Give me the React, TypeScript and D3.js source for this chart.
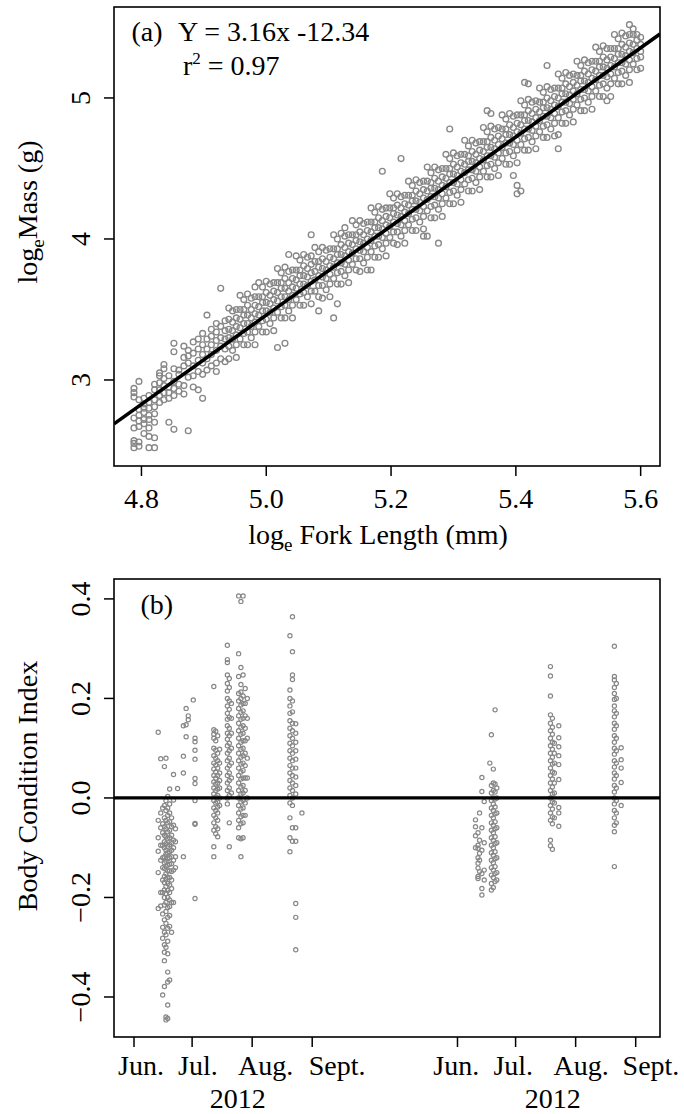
import React from 'react';
import * as d3 from 'd3';

// ---------- Panel (a): log_e fork length vs log_e mass ----------
const lenLog = [
  4.788, 4.796, 4.804, 4.812, 4.821, 4.829, 4.836, 4.844, 4.852, 4.860,
  4.868, 4.875, 4.883, 4.891, 4.898, 4.905, 4.912, 4.920, 4.927, 4.934,
  4.940, 4.946, 4.952, 4.958, 4.964, 4.970, 4.976, 4.982, 4.988, 4.994,
  5.000, 5.006, 5.012, 5.018, 5.024, 5.030, 5.036, 5.042, 5.048, 5.054,
  5.060, 5.066, 5.072, 5.078, 5.084, 5.090, 5.096, 5.102, 5.108, 5.114,
  5.120, 5.126, 5.132, 5.138, 5.144, 5.150, 5.156, 5.162, 5.168, 5.174,
  5.180, 5.186, 5.192, 5.198, 5.204, 5.210, 5.216, 5.222, 5.228, 5.234,
  5.240, 5.246, 5.252, 5.258, 5.264, 5.270, 5.276, 5.282, 5.288, 5.294,
  5.300, 5.306, 5.312, 5.318, 5.324, 5.330, 5.336, 5.342, 5.348, 5.354,
  5.360, 5.366, 5.372, 5.378, 5.384, 5.390, 5.396, 5.402, 5.408, 5.414,
  5.420, 5.426, 5.432, 5.438, 5.444, 5.450, 5.456, 5.462, 5.468, 5.474,
  5.480, 5.486, 5.492, 5.498, 5.504, 5.510, 5.516, 5.522, 5.528, 5.534,
  5.540, 5.546, 5.552, 5.558, 5.564, 5.570, 5.576, 5.582, 5.588, 5.594,
  5.600,
];

const massLog = [
  [2.52, 2.55, 2.57, 2.66, 2.73, 2.88, 2.91, 2.94],
  [2.53, 2.56, 2.67, 2.71, 2.75, 2.79, 2.86, 2.99],
  [2.62, 2.69, 2.72, 2.77, 2.80, 2.83, 2.87],
  [2.52, 2.60, 2.66, 2.72, 2.75, 2.80, 2.84, 2.89],
  [2.52, 2.59, 2.70, 2.76, 2.81, 2.86, 2.93, 2.97],
  [2.84, 2.89, 2.93, 2.98, 3.03, 3.05],
  [2.86, 2.91, 2.96, 3.01, 3.08, 3.11],
  [2.70, 2.87, 2.91, 2.95, 3.03],
  [2.65, 2.89, 2.94, 2.99, 3.08, 3.20, 3.26],
  [2.92, 2.97, 3.04, 3.07],
  [2.90, 2.96, 3.10, 3.16, 3.24],
  [2.64, 3.02, 3.12, 3.17, 3.21],
  [2.95, 3.03, 3.10, 3.19, 3.27],
  [2.93, 3.06, 3.14, 3.22, 3.29],
  [2.87, 3.04, 3.12, 3.18, 3.25, 3.33],
  [3.07, 3.15, 3.22, 3.29, 3.46],
  [3.10, 3.18, 3.25, 3.31, 3.36],
  [3.06, 3.12, 3.21, 3.28, 3.34, 3.40],
  [3.15, 3.24, 3.30, 3.38, 3.65],
  [3.13, 3.22, 3.29, 3.35, 3.42],
  [3.15, 3.24, 3.30, 3.36, 3.43, 3.51],
  [3.21, 3.29, 3.35, 3.41, 3.49],
  [3.16, 3.25, 3.32, 3.38, 3.44, 3.50],
  [3.29, 3.37, 3.43, 3.50, 3.60],
  [3.25, 3.33, 3.40, 3.46, 3.50, 3.57],
  [3.25, 3.34, 3.40, 3.46, 3.53, 3.61],
  [3.30, 3.38, 3.44, 3.50, 3.58],
  [3.25, 3.34, 3.41, 3.47, 3.53, 3.59, 3.66],
  [3.38, 3.46, 3.52, 3.59, 3.69],
  [3.34, 3.42, 3.49, 3.55, 3.59, 3.66],
  [3.34, 3.43, 3.49, 3.55, 3.62, 3.70],
  [3.40, 3.48, 3.54, 3.60, 3.68],
  [3.35, 3.44, 3.51, 3.57, 3.63, 3.69],
  [3.23, 3.48, 3.56, 3.62, 3.69, 3.79],
  [3.44, 3.52, 3.59, 3.65, 3.69, 3.76],
  [3.26, 3.44, 3.53, 3.59, 3.65, 3.72, 3.80],
  [3.49, 3.57, 3.63, 3.69, 3.77, 3.89],
  [3.44, 3.53, 3.60, 3.66, 3.72, 3.78],
  [3.57, 3.65, 3.71, 3.78, 3.88],
  [3.53, 3.61, 3.68, 3.74, 3.78, 3.85],
  [3.53, 3.62, 3.68, 3.74, 3.81, 3.89],
  [3.59, 3.67, 3.73, 3.79, 3.87],
  [3.54, 3.63, 3.70, 3.76, 3.82, 3.88, 4.03],
  [3.63, 3.71, 3.77, 3.84, 3.94],
  [3.49, 3.59, 3.67, 3.74, 3.80, 3.84, 3.91],
  [3.58, 3.67, 3.73, 3.79, 3.86, 3.94],
  [3.64, 3.72, 3.78, 3.84, 3.92],
  [3.59, 3.68, 3.75, 3.81, 3.87, 3.93],
  [3.44, 3.72, 3.80, 3.86, 3.93, 4.03],
  [3.54, 3.68, 3.76, 3.83, 3.89, 3.93, 4.00],
  [3.68, 3.77, 3.83, 3.89, 3.96, 4.04],
  [3.74, 3.82, 3.88, 3.94, 4.02, 4.08],
  [3.69, 3.78, 3.85, 3.91, 3.97, 4.03],
  [3.82, 3.90, 3.96, 4.03, 4.13],
  [3.78, 3.86, 3.93, 3.99, 4.03, 4.10],
  [3.77, 3.86, 3.92, 3.98, 4.05, 4.13],
  [3.83, 3.91, 3.97, 4.03, 4.11],
  [3.78, 3.87, 3.94, 4.00, 4.06, 4.12],
  [3.78, 3.91, 3.99, 4.05, 4.12, 4.22],
  [3.87, 3.95, 4.02, 4.08, 4.12, 4.19],
  [3.87, 3.96, 4.02, 4.08, 4.15, 4.23],
  [3.93, 4.01, 4.07, 4.13, 4.21, 4.48],
  [3.88, 3.97, 4.04, 4.10, 4.16, 4.22],
  [4.01, 4.09, 4.15, 4.22, 4.32],
  [3.97, 4.05, 4.12, 4.18, 4.22, 4.29],
  [3.96, 4.05, 4.11, 4.17, 4.24, 4.32],
  [4.02, 4.10, 4.16, 4.22, 4.30, 4.57],
  [3.97, 4.06, 4.13, 4.19, 4.25, 4.31],
  [4.10, 4.18, 4.24, 4.31, 4.41],
  [4.06, 4.14, 4.21, 4.27, 4.31, 4.38],
  [4.06, 4.15, 4.21, 4.27, 4.34, 4.42],
  [4.12, 4.20, 4.26, 4.32, 4.40],
  [4.02, 4.07, 4.16, 4.23, 4.29, 4.35, 4.41],
  [4.02, 4.20, 4.28, 4.34, 4.41, 4.51],
  [4.15, 4.23, 4.30, 4.36, 4.40, 4.47],
  [4.15, 4.24, 4.30, 4.36, 4.43, 4.51],
  [3.97, 4.21, 4.29, 4.35, 4.41, 4.49],
  [4.16, 4.25, 4.32, 4.38, 4.44, 4.50],
  [4.29, 4.37, 4.43, 4.50, 4.60],
  [4.25, 4.33, 4.40, 4.46, 4.50, 4.57, 4.78],
  [4.25, 4.34, 4.40, 4.46, 4.53, 4.61],
  [4.31, 4.39, 4.45, 4.51, 4.59],
  [4.26, 4.35, 4.42, 4.48, 4.54, 4.60],
  [4.39, 4.47, 4.53, 4.60, 4.70],
  [4.34, 4.42, 4.49, 4.55, 4.59, 4.66],
  [4.34, 4.43, 4.49, 4.55, 4.62, 4.70],
  [4.40, 4.48, 4.54, 4.60, 4.68],
  [4.35, 4.44, 4.51, 4.57, 4.63, 4.69],
  [4.48, 4.56, 4.62, 4.69, 4.79],
  [4.44, 4.52, 4.59, 4.65, 4.69, 4.76, 4.91],
  [4.44, 4.53, 4.59, 4.65, 4.72, 4.80, 4.89],
  [4.50, 4.58, 4.64, 4.70, 4.78],
  [4.45, 4.54, 4.61, 4.67, 4.73, 4.79],
  [4.57, 4.65, 4.71, 4.78, 4.88],
  [4.53, 4.61, 4.68, 4.74, 4.78, 4.85],
  [4.53, 4.62, 4.68, 4.74, 4.81, 4.89],
  [4.45, 4.59, 4.67, 4.73, 4.79, 4.87],
  [4.32, 4.38, 4.54, 4.63, 4.70, 4.76, 4.82, 4.88],
  [4.34, 4.67, 4.75, 4.81, 4.88, 4.98],
  [4.63, 4.71, 4.78, 4.84, 4.88, 4.95, 5.11],
  [4.63, 4.72, 4.78, 4.84, 4.91, 4.99, 5.10],
  [4.69, 4.77, 4.83, 4.89, 4.97],
  [4.64, 4.73, 4.80, 4.86, 4.92, 4.98],
  [4.76, 4.84, 4.90, 4.97, 5.07],
  [4.72, 4.80, 4.87, 4.93, 4.97, 5.04],
  [4.72, 4.81, 4.87, 4.93, 5.00, 5.08, 5.23],
  [4.78, 4.86, 4.92, 4.98, 5.06],
  [4.73, 4.82, 4.89, 4.95, 5.01, 5.07],
  [4.64, 4.74, 4.86, 4.94, 5.00, 5.07, 5.17],
  [4.82, 4.90, 4.97, 5.03, 5.07, 5.14],
  [4.82, 4.91, 4.97, 5.03, 5.10, 5.18],
  [4.88, 4.96, 5.02, 5.08, 5.16],
  [4.83, 4.92, 4.99, 5.05, 5.11, 5.17],
  [4.95, 5.03, 5.09, 5.16, 5.26],
  [4.91, 4.99, 5.06, 5.12, 5.16, 5.23],
  [4.91, 5.00, 5.06, 5.12, 5.19, 5.27],
  [4.97, 5.05, 5.11, 5.17, 5.25],
  [4.92, 5.01, 5.08, 5.14, 5.20, 5.26],
  [5.05, 5.13, 5.19, 5.26, 5.36],
  [5.01, 5.09, 5.16, 5.22, 5.26, 5.33],
  [5.01, 5.10, 5.16, 5.22, 5.29, 5.37],
  [4.98, 5.07, 5.15, 5.21, 5.27, 5.35],
  [5.01, 5.10, 5.17, 5.23, 5.29, 5.35],
  [5.14, 5.22, 5.28, 5.35, 5.45],
  [5.10, 5.18, 5.25, 5.31, 5.35, 5.42],
  [5.10, 5.19, 5.25, 5.31, 5.38, 5.46],
  [5.16, 5.24, 5.30, 5.36, 5.44],
  [5.11, 5.20, 5.27, 5.33, 5.39, 5.45, 5.52],
  [5.24, 5.32, 5.38, 5.45, 5.49],
  [5.20, 5.28, 5.35, 5.41, 5.45],
  [5.21, 5.29, 5.33, 5.38, 5.43],
];

const fitSlope = 3.16;
const fitIntercept = -12.34;
const xTicksA = [4.8, 5.0, 5.2, 5.4, 5.6];
const yTicksA = [3, 4, 5];

// ---------- Panel (b): body condition index by sampling day ----------
// days counted from 1 June; second site drawn after an offset on the same axis
const bciDays = [
  12.5, 13.8, 14.8, 15.7, 16.5, 17.4, 18.4, 19.4, 20.4, 21.4,
  22.5, 25.5, 26.9, 28.0, 30.6, 31.5,
  41.2, 42.2, 43.2, 44.2, 48.2, 49.2, 50.3,
  54.0, 55.2, 56.3, 57.4, 58.5,
  80.5, 81.8, 83.5, 86.7,
  176.3, 177.6, 178.4, 179.6, 180.8, 183.7, 184.5, 185.5, 186.4, 187.3,
  215.0, 216.0, 217.0, 219.3,
  248.0, 249.0, 251.5,
];

const bciValues = [
  [0.132, -0.045, -0.080, -0.107, -0.150, -0.222],
  [0.079, -0.030, -0.060, -0.095, -0.125, -0.190, -0.217],
  [-0.020, -0.052, -0.070, -0.095, -0.120, -0.140, -0.165, -0.190, -0.233, -0.260, -0.282, -0.396],
  [0.063, -0.015, -0.040, -0.058, -0.075, -0.088, -0.100, -0.118, -0.130, -0.142, -0.158, -0.170, -0.185, -0.200, -0.215, -0.245, -0.270, -0.295, -0.310, -0.327, -0.379],
  [0.080, -0.005, -0.025, -0.045, -0.062, -0.078, -0.092, -0.105, -0.113, -0.127, -0.138, -0.152, -0.163, -0.178, -0.192, -0.210, -0.228, -0.252, -0.275, -0.300, -0.440, -0.446],
  [0.003, -0.020, -0.035, -0.050, -0.068, -0.082, -0.097, -0.110, -0.122, -0.135, -0.147, -0.160, -0.172, -0.186, -0.200, -0.220, -0.240, -0.262, -0.288, -0.313, -0.350, -0.370, -0.416, -0.443],
  [0.018, -0.012, -0.030, -0.048, -0.065, -0.080, -0.094, -0.108, -0.120, -0.133, -0.146, -0.160, -0.175, -0.190, -0.205, -0.218, -0.236, -0.258, -0.366],
  [-0.040, -0.058, -0.075, -0.090, -0.105, -0.118, -0.132, -0.148, -0.165, -0.182, -0.210, -0.270],
  [0.047, -0.004, -0.055, -0.085, -0.100, -0.125, -0.145, -0.210],
  [-0.062, -0.088, -0.118, -0.140],
  [0.019],
  [0.145, 0.084, 0.050, -0.118],
  [0.147, 0.123, 0.180],
  [0.157, 0.165],
  [0.197],
  [0.120, 0.113, 0.096, 0.078, 0.039, 0.029, -0.005, -0.051, -0.053, -0.202],
  [0.224, 0.137, 0.128, 0.120, 0.100, 0.085, 0.070, 0.058, 0.045, 0.032, 0.020, 0.008, -0.005, -0.020, -0.035, -0.050, -0.065, -0.098, -0.118],
  [0.134, 0.115, 0.096, 0.080, 0.066, 0.052, 0.040, 0.028, 0.015, 0.002, -0.010, -0.025, -0.040, -0.058, -0.072],
  [0.125, 0.090, 0.075, 0.060, 0.045, 0.030, 0.018, 0.005, -0.008, -0.018, -0.030, -0.045, -0.062, -0.078],
  [0.098, 0.070, 0.050, 0.035, 0.020, 0.000, -0.015],
  [0.307, 0.278, 0.272, 0.247, 0.230, 0.215, 0.200, 0.185, 0.170, 0.158, 0.145, 0.130, 0.118, 0.105, 0.090, 0.075, 0.060, 0.045, 0.030, 0.015, 0.000, -0.012],
  [0.240, 0.222, 0.195, 0.178, 0.162, 0.140, 0.125, 0.110, 0.095, 0.080, 0.065, 0.050, 0.035, 0.020, 0.005, -0.050, -0.098],
  [0.190, 0.160, 0.130, 0.100, 0.070, 0.040, 0.010],
  [0.406, 0.290, 0.244, 0.210, 0.195, 0.180, 0.165, 0.150, 0.135, 0.120, 0.105, 0.090, 0.075, 0.060, 0.045, 0.030, 0.015, 0.000, -0.015, -0.030, -0.045, -0.060, -0.080],
  [0.395, 0.262, 0.228, 0.213, 0.200, 0.187, 0.172, 0.158, 0.142, 0.128, 0.112, 0.098, 0.082, 0.068, 0.052, 0.038, 0.022, 0.008, -0.008, -0.022, -0.038, -0.052, -0.082, -0.118],
  [0.406, 0.247, 0.205, 0.190, 0.175, 0.160, 0.145, 0.130, 0.115, 0.100, 0.085, 0.070, 0.055, 0.040, 0.025, 0.010, -0.005, -0.020, -0.035, -0.050, -0.080],
  [0.220, 0.190, 0.165, 0.140, 0.115, 0.090, 0.065, 0.040, 0.015, -0.010, -0.035],
  [0.200, 0.160, 0.120, 0.080, 0.040, 0.000],
  [0.326, 0.217, 0.200, 0.185, 0.170, 0.155, 0.140, 0.125, 0.110, 0.095, 0.080, 0.065, 0.050, 0.035, 0.020, 0.005, -0.010, -0.040, -0.080, -0.108],
  [0.364, 0.294, 0.247, 0.238, 0.195, 0.173, 0.150, 0.135, 0.120, 0.105, 0.090, 0.075, 0.060, 0.045, 0.030, 0.015, 0.000, -0.015, -0.060, -0.087],
  [0.149, 0.130, 0.112, 0.095, 0.078, 0.060, 0.042, 0.025, 0.008, -0.060, -0.087, -0.212, -0.240, -0.305],
  [-0.030],
  [-0.044, -0.058, -0.076, -0.100],
  [-0.095, -0.101, -0.131, -0.141, -0.158, -0.162, -0.070, -0.120],
  [-0.030, -0.111, -0.125, -0.085, -0.148],
  [0.041, 0.013, -0.182, -0.195, -0.152, -0.060, -0.105],
  [-0.007, -0.145, -0.090, -0.165],
  [0.070],
  [0.127, 0.025, 0.010, -0.005, -0.020, -0.035, -0.050, -0.065, -0.080, -0.095, -0.110, -0.125, -0.140, -0.155, -0.172, -0.185],
  [0.058, 0.030, 0.015, 0.000, -0.012, -0.025, -0.040, -0.055, -0.070, -0.085, -0.100, -0.115, -0.130, -0.145, -0.160, -0.180],
  [0.177, 0.028, 0.012, -0.002, -0.018, -0.032, -0.048, -0.062, -0.078, -0.092, -0.108, -0.122, -0.138, -0.152, -0.168],
  [0.020, 0.000, -0.030, -0.060, -0.090, -0.120, -0.150, -0.165],
  [0.264, 0.245, 0.205, 0.167, 0.150, 0.135, 0.120, 0.105, 0.090, 0.075, 0.060, 0.045, 0.030, 0.015, 0.000, -0.015, -0.030, -0.045, -0.085, -0.096],
  [0.160, 0.142, 0.128, 0.112, 0.098, 0.082, 0.068, 0.052, 0.038, 0.022, 0.008, -0.008, -0.022, -0.038, -0.052, -0.103],
  [0.110, 0.090, 0.070, 0.050, 0.030, 0.010, -0.010, -0.040],
  [0.145, 0.121, 0.103, 0.085, 0.067, 0.037, -0.019, -0.030, -0.057],
  [0.305, 0.244, 0.237, 0.222, 0.210, 0.198, 0.185, 0.175, 0.163, 0.150, 0.138, 0.125, 0.112, 0.100, 0.088, 0.075, 0.062, 0.050, 0.038, 0.025, 0.012, 0.000, -0.012, -0.025, -0.040, -0.055, -0.068, -0.138],
  [0.230, 0.200, 0.170, 0.145, 0.120, 0.095, 0.070, 0.045, 0.020, -0.005, -0.030, -0.050],
  [0.101, 0.077, 0.060, 0.031, -0.015],
];

const monthTickDays = [0, 30, 61, 92, 167, 197, 228, 259];
const monthLabels = ['Jun.', 'Jul.', 'Aug.', 'Sept.', 'Jun.', 'Jul.', 'Aug.', 'Sept.'];
const monthLabelDays = [3.6, 33.0, 68.0, 104.9, 166.4, 195.8, 230.8, 266.9];
const yearLabels = ['2012', '2012'];
const yearLabelDays = [53.6, 216.2];
const yTicksB = [-0.4, -0.2, 0, 0.2, 0.4];

const FONT = "'Liberation Serif', 'Times New Roman', Times, serif";
const PT_COLOR = '#878787';

export default function App() {
  const W = 684;
  const H = 1114;
  const left = 114;
  const right = 660;

  const xa = d3.scaleLinear().domain([4.756, 5.631]).range([left, right]);
  const ya = d3.scaleLinear().domain([2.39, 5.645]).range([466, 7]);
  const xb = d3.scaleLinear().domain([-10.33, 271.55]).range([left, right]);
  const yb = d3.scaleLinear().domain([-0.4804, 0.44]).range([1037, 579]);

  const ptsA = lenLog.flatMap((x, i) => massLog[i].map((y) => ({ x, y })));
  const ptsB = bciDays.flatMap((d, i) => bciValues[i].map((v) => ({ d, v })));

  const [xd0, xd1] = xa.domain();
  const fitLine = d3
    .line<number>()
    .x((x) => xa(x))
    .y((x) => ya(fitSlope * x + fitIntercept))([xd0, xd1]);

  const fmtA = d3.format('.1f');
  const fmtB = d3.format('.1f');
  const tick = 10;

  return (
    <svg
      width={W}
      height={H}
      viewBox={`0 0 ${W} ${H}`}
      style={{ position: 'absolute', left: 0, top: 0, display: 'block', background: '#fff' }}
      fontFamily={FONT}
    >
      <rect x={0} y={0} width={W} height={H} fill="#fff" />
      <defs>
        <clipPath id="clipA">
          <rect x={left} y={7} width={right - left} height={466 - 7} />
        </clipPath>
        <clipPath id="clipB">
          <rect x={left} y={579} width={right - left} height={1037 - 579} />
        </clipPath>
      </defs>

      {/* ---------- Panel (a) ---------- */}
      <g clipPath="url(#clipA)">
        {ptsA.map((p, i) => (
          <circle key={i} cx={xa(p.x)} cy={ya(p.y)} r={2.9} fill="none" stroke={PT_COLOR} strokeWidth={1.35} />
        ))}
        <path d={fitLine || ''} stroke="#000" strokeWidth={3.6} fill="none" />
      </g>
      <rect x={left} y={7} width={right - left} height={466 - 7} fill="none" stroke="#000" strokeWidth={1.6} />

      {xTicksA.map((t) => (
        <g key={'xa' + t}>
          <line x1={xa(t)} x2={xa(t)} y1={466} y2={466 + tick} stroke="#000" strokeWidth={1.5} />
          <text x={xa(t)} y={508} fontSize={28} textAnchor="middle" fill="#000">
            {fmtA(t)}
          </text>
        </g>
      ))}
      {yTicksA.map((t) => (
        <g key={'ya' + t}>
          <line x1={left - tick} x2={left} y1={ya(t)} y2={ya(t)} stroke="#000" strokeWidth={1.5} />
          <text transform={`translate(90,${ya(t)}) rotate(-90)`} fontSize={28} textAnchor="middle" fill="#000">
            {String(t)}
          </text>
        </g>
      ))}

      <text x={378} y={544} fontSize={28} textAnchor="middle" fill="#000">
        log
        <tspan fontSize={19} dy={7}>e</tspan>
        <tspan dy={-7}> Fork Length (mm)</tspan>
      </text>
      <text transform="translate(36.5,212) rotate(-90)" fontSize={28} textAnchor="middle" fill="#000">
        log
        <tspan fontSize={19} dy={7}>e</tspan>
        <tspan dy={-7}>Mass (g)</tspan>
      </text>

      <text x={131.5} y={41} fontSize={28} fill="#000">(a)</text>
      <text x={178} y={41} fontSize={28} fill="#000">Y = 3.16x -12.34</text>
      <text x={183} y={75} fontSize={28} fill="#000">
        r
        <tspan fontSize={17} dy={-11}>2</tspan>
        <tspan dy={11}> = 0.97</tspan>
      </text>

      {/* ---------- Panel (b) ---------- */}
      <g clipPath="url(#clipB)">
        {ptsB.map((p, i) => (
          <circle key={i} cx={xb(p.d)} cy={yb(p.v)} r={2.1} fill="none" stroke={PT_COLOR} strokeWidth={1.2} />
        ))}
        <line x1={left} x2={right} y1={yb(0)} y2={yb(0)} stroke="#000" strokeWidth={3.2} />
      </g>
      <rect x={left} y={579} width={right - left} height={1037 - 579} fill="none" stroke="#000" strokeWidth={1.6} />

      {monthTickDays.map((d, i) => (
        <line key={'mt' + i} x1={xb(d)} x2={xb(d)} y1={1037} y2={1037 + tick} stroke="#000" strokeWidth={1.5} />
      ))}
      {monthLabels.map((m, i) => (
        <text key={'ml' + i} x={xb(monthLabelDays[i])} y={1075} fontSize={28} textAnchor="middle" fill="#000">
          {m}
        </text>
      ))}
      {yearLabels.map((yl, i) => (
        <text key={'yl' + i} x={xb(yearLabelDays[i])} y={1108} fontSize={28} textAnchor="middle" fill="#000">
          {yl}
        </text>
      ))}
      {yTicksB.map((t) => (
        <g key={'yb' + t}>
          <line x1={left - tick} x2={left} y1={yb(t)} y2={yb(t)} stroke="#000" strokeWidth={1.5} />
          <text transform={`translate(90,${yb(t)}) rotate(-90)`} fontSize={28} textAnchor="middle" fill="#000">
            {fmtB(t)}
          </text>
        </g>
      ))}
      <text transform="translate(36.5,786) rotate(-90)" fontSize={28} textAnchor="middle" fill="#000">
        Body Condition Index
      </text>
      <text x={140.5} y={614} fontSize={28} fill="#000">(b)</text>
    </svg>
  );
}
